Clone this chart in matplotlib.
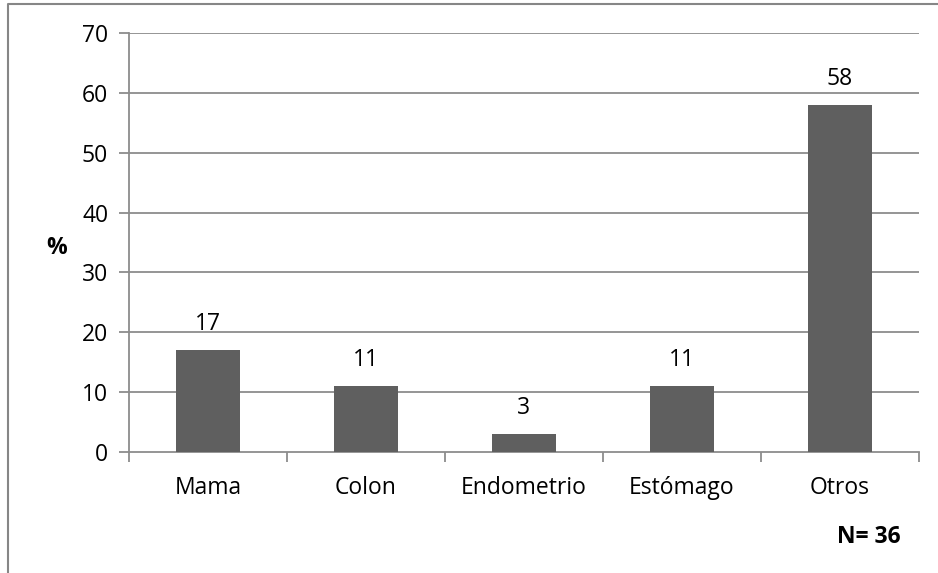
#!/usr/bin/env python3
"""Bar chart: tumour location percentages (N=36)."""

import matplotlib
matplotlib.use("Agg")
import matplotlib.pyplot as plt
from matplotlib.lines import Line2D
import numpy as np

categories = ["Mama", "Colon", "Endometrio", "Estómago", "Otros"]
values = [17, 11, 3, 11, 58]
y_ticks = [0, 10, 20, 30, 40, 50, 60, 70]

plt.rcParams["font.family"] = ["Open Sans", "DejaVu Sans"]

W, H = 938, 573
fig = plt.figure(figsize=(W / 100, H / 100), dpi=100)
ax = fig.add_axes([129 / W, 1 - 452 / H, (919 - 129) / W, (452 - 33) / H])

grid_col = "#8c8c8c"
bar_col = "#5f5f5f"
fs = 16.5

x = np.arange(len(categories))
ax.bar(x, values, width=0.4, color=bar_col, zorder=3)
for xi, v in zip(x, values):
    ax.annotate(str(v), (xi, v), xytext=(0, 10), textcoords="offset points",
                ha="center", va="bottom", fontsize=fs, color="black", zorder=4)

ax.set_xlim(-0.5, len(categories) - 0.5)
ax.set_ylim(0, 70)
ax.set_yticks(y_ticks)
ax.set_yticklabels([str(t) for t in y_ticks], fontsize=fs)
for t in y_ticks[1:]:
    ax.axhline(t, color=grid_col, linewidth=1.3, zorder=1)

# category labels centred, tick marks on boundaries
ax.set_xticks(x)
ax.set_xticklabels(categories, fontsize=fs)
ax.tick_params(axis="x", length=0, pad=17)
ax.set_xticks(np.arange(len(categories) + 1) - 0.5, minor=True)
ax.tick_params(axis="x", which="minor", length=7, width=1.3, color=grid_col)
ax.tick_params(axis="y", length=7, width=1.3, color=grid_col, pad=8)

for side in ["top", "right"]:
    ax.spines[side].set_visible(False)
for side in ["left", "bottom"]:
    ax.spines[side].set_color(grid_col)
    ax.spines[side].set_linewidth(1.3)

fig.text(57 / W, 1 - 248 / H, "%", fontsize=fs, fontweight="bold",
         ha="center", va="center")
fig.text(869 / W, 1 - 537 / H, "N= 36", fontsize=fs, fontweight="bold",
         ha="center", va="center")

# outer chart border (left and top edges visible)
fig.add_artist(Line2D([8 / W, 8 / W, 1.0], [0.0, 1 - 4 / H, 1 - 4 / H],
                      transform=fig.transFigure, color="#868686", linewidth=1.5))

fig.savefig("out.png", dpi=100)
